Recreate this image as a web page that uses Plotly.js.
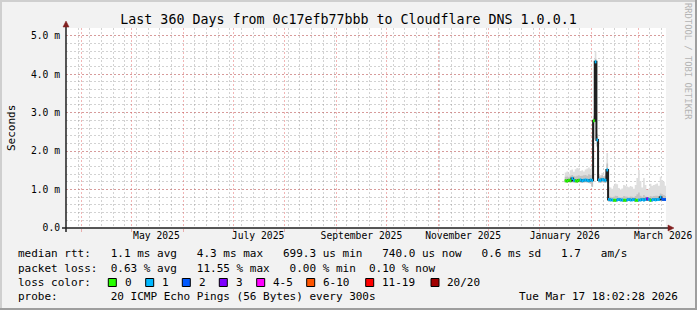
<!DOCTYPE html>
<html><head><meta charset="utf-8">
<script src="https://cdn.plot.ly/plotly-3.0.1.min.js"></script>
<style>html,body{margin:0;padding:0;background:#f2f2f2;} #chart{width:697px;height:310px;}</style>
</head><body><div id="chart"></div>
<script>
// ---------- data (daily consolidated smokeping values, ms) ----------
const rangeStart = '2025-03-22 18:02:28';
const rangeEnd   = '2026-03-17 18:02:28';
const firstDay = [2026, 0, 16];   // first day with data (Jan 16 2026)
const medianMs = [1.23,1.22,1.24,1.23,1.29,1.24,1.23,1.22,1.24,1.25,1.23,1.24,1.25,1.24,1.23,1.25,
  1.24,2.79,4.32,2.29,1.25,1.24,1.26,1.25,1.24,1.51,
  0.74,0.73,0.73,0.72,0.72,0.73,0.74,0.73,0.73,0.72,0.72,0.73,0.74,0.73,0.73,0.74,0.72,0.72,0.73,0.73,
  0.74,0.73,0.74,0.76,0.74,0.72,0.73,0.74,0.73,0.74,0.74,0.80,0.75,0.74,0.74];
const lossPings = [0,0,0,0,1,1,0,0,0,1,1,1,1,1,1,1,
  1,0,1,1,1,1,1,1,1,1,
  1,1,1,0,0,1,1,1,1,0,0,1,1,1,1,1,0,0,1,1,1,1,1,3,1,0,1,1,1,1,1,1,2,2,2];
const smokeMin = [1.18,1.17,1.19,1.18,1.19,1.18,1.17,1.17,1.19,1.18,1.17,1.18,1.19,1.18,1.17,1.16,
  1.07,2.30,4.12,2.12,1.18,1.17,1.19,1.18,1.17,1.36,
  0.69,0.69,0.70,0.69,0.69,0.70,0.70,0.69,0.69,0.69,0.69,0.70,0.70,0.69,0.70,0.70,0.69,0.69,0.70,0.69,
  0.70,0.69,0.70,0.71,0.70,0.69,0.69,0.70,0.70,0.70,0.70,0.72,0.71,0.70,0.70];
const smokeP75 = [1.33,1.34,1.32,1.36,1.38,1.35,1.34,1.36,1.37,1.35,1.36,1.37,1.38,1.36,1.40,1.38,
  1.40,2.86,4.40,2.38,1.35,1.33,1.37,1.34,1.36,1.68,
  0.82,0.81,0.80,0.81,0.84,0.83,0.80,0.79,0.80,0.83,0.82,0.81,0.80,0.82,0.81,0.80,0.83,0.88,0.92,0.84,
  0.81,0.86,0.82,0.80,0.80,0.83,0.82,0.83,0.84,0.84,0.82,0.90,0.88,0.86,0.83];
const smokeMax = [1.44,1.47,1.41,1.50,1.52,1.46,1.53,1.56,1.55,1.48,1.50,1.47,1.52,1.55,1.57,1.54,
  1.60,2.92,4.58,2.45,1.40,1.38,1.43,1.36,1.42,1.95,
  1.07,1.05,1.02,1.10,1.16,1.14,1.04,1.00,1.03,1.12,1.10,1.08,1.06,1.09,1.07,1.02,1.12,1.30,1.51,1.22,
  1.05,1.30,1.12,0.99,1.02,1.15,1.10,1.12,1.14,1.16,1.10,1.33,1.25,1.20,1.10];

const yTickVals = [0,1,2,3,4,5];
const yTickText = ['0.0','1.0 m','2.0 m','3.0 m','4.0 m','5.0 m'];
const xLabelVals = ['2025-05-16','2025-07-16','2025-09-16','2025-11-16','2026-01-16','2026-03-16'];
const xLabelText = ['May 2025','July 2025','September 2025','November 2025','January 2026','March 2026'];

const lossClasses = [
  {label:'0',     lo:0,  hi:0,  color:'#26ff00'},
  {label:'1',     lo:1,  hi:1,  color:'#00b8ff'},
  {label:'2',     lo:2,  hi:2,  color:'#0059ff'},
  {label:'3',     lo:3,  hi:3,  color:'#7e00ff'},
  {label:'4-5',   lo:4,  hi:5,  color:'#ff00ff'},
  {label:'6-10',  lo:6,  hi:10, color:'#ff5500'},
  {label:'11-19', lo:11, hi:19, color:'#ff0000'},
  {label:'20/20', lo:20, hi:20, color:'#a10000'}
];

const legendLines = [
  'median rtt:   1.1 ms avg   4.3 ms max   699.3 us min   740.0 us now   0.6 ms sd   1.7   am/s',
  'packet loss:  0.63 % avg   11.55 % max   0.00 % min  0.10 % now',
  'loss color:',
  'probe:        20 ICMP Echo Pings (56 Bytes) every 300s'
];
const stampText = 'Tue Mar 17 18:02:28 2026';
const titleText = 'Last 360 Days from 0c17efb77bbb to Cloudflare DNS 1.0.0.1';

// ---------- build ----------
const FONT = 'DejaVu Sans Mono';
const n = medianMs.length;
function dayStr(i){ const d = new Date(Date.UTC(firstDay[0], firstDay[1], firstDay[2] + i)); return d.toISOString().slice(0,10); }
const xs = []; for (let i = 0; i <= n; i++) xs.push(dayStr(i));
const ext = a => a.concat([a[a.length-1]]);

const traces = [];
function band(lo, hi, color){
  traces.push({x: xs, y: ext(lo), type:'scatter', mode:'lines', line:{width:0, shape:'hv'}, hoverinfo:'skip', showlegend:false});
  traces.push({x: xs, y: ext(hi), type:'scatter', mode:'lines', line:{width:0, shape:'hv'}, fill:'tonexty', fillcolor:color, hoverinfo:'skip', showlegend:false});
}
band(smokeMin, smokeMax, '#dedede');
band(smokeMin, smokeP75, '#c2c2c2');
traces.push({x: xs, y: ext(medianMs), type:'scatter', mode:'lines', line:{width:2, shape:'hv', color:'#202020'}, showlegend:false, hoverinfo:'skip'});
lossClasses.forEach(c => {
  const sx = [], sy = [];
  for (let i = 0; i < n; i++) {
    if (lossPings[i] >= c.lo && lossPings[i] <= c.hi) { sx.push(xs[i], xs[i+1], null); sy.push(medianMs[i], medianMs[i], null); }
  }
  if (sx.length) traces.push({x: sx, y: sy, type:'scatter', mode:'lines', line:{width:3, color:c.color}, connectgaps:false, showlegend:false, hoverinfo:'skip'});
});

// pixel helpers for decorations (plot area: left 66, top 28, 600x200)
const L = 66, T = 28, W = 600, H = 200;
const PX = x => (x - L) / W, PY = y => (T + H - y) / H;
const nb = s => s.replace(/ /g, '\u00a0');

const annotations = [];
const legendY = [254, 268.3, 282.3, 296];
legendLines.forEach((t, k) => annotations.push({xref:'paper', yref:'paper', x:PX(16), y:PY(legendY[k]), xanchor:'left', yanchor:'middle', text:nb(t), showarrow:false, font:{family:FONT, size:11, color:'#000'}}));
annotations.push({xref:'paper', yref:'paper', x:PX(680), y:PY(296), xanchor:'right', yanchor:'middle', text:nb(stampText), showarrow:false, font:{family:FONT, size:11, color:'#000'}});
annotations.push({xref:'paper', yref:'paper', x:PX(11), y:0.5, textangle:-90, xanchor:'center', yanchor:'middle', text:'Seconds', showarrow:false, font:{family:FONT, size:11, color:'#000'}});
annotations.push({xref:'paper', yref:'paper', x:PX(688), y:PY(61), textangle:90, xanchor:'center', yanchor:'middle', text:nb('RRDTOOL / TOBI OETIKER'), showarrow:false, font:{family:FONT, size:8.8, color:'#b4b4b4'}});

const shapes = [];
const boxLeft = [108.3, 145.7, 182.3, 219.3, 256.7, 306.7, 365.7, 431];
lossClasses.forEach((c, k) => {
  const bx = boxLeft[k];
  shapes.push({type:'rect', xref:'paper', yref:'paper', x0:PX(bx), x1:PX(bx+8), y0:PY(286.5), y1:PY(278.5), fillcolor:c.color, line:{color:'#000', width:1}});
  annotations.push({xref:'paper', yref:'paper', x:PX(bx+14.5), y:PY(282.3), xanchor:'left', yanchor:'middle', text:c.label, showarrow:false, font:{family:FONT, size:11, color:'#000'}});
});
// axes with arrows
shapes.push({type:'line', xref:'paper', yref:'paper', x0:PX(62), x1:PX(669), y0:0, y1:0, line:{color:'#1f1f1f', width:1.5}});
shapes.push({type:'line', xref:'paper', yref:'paper', x0:0, x1:0, y0:PY(232), y1:PY(25), line:{color:'#1f1f1f', width:1.5}});
shapes.push({type:'path', xref:'paper', yref:'paper', path:`M ${PX(668)} ${PY(225)} L ${PX(674)} ${PY(228)} L ${PX(668)} ${PY(231)} Z`, fillcolor:'#801f1f', line:{color:'#801f1f', width:0.5}});
shapes.push({type:'path', xref:'paper', yref:'paper', path:`M ${PX(63)} ${PY(27)} L ${PX(66)} ${PY(21)} L ${PX(69)} ${PY(27)} Z`, fillcolor:'#801f1f', line:{color:'#801f1f', width:0.5}});
// frame shading
shapes.push({type:'rect', xref:'paper', yref:'paper', x0:PX(0), x1:PX(697), y0:PY(0), y1:PY(2), fillcolor:'#cfcfcf', line:{width:0}});
shapes.push({type:'rect', xref:'paper', yref:'paper', x0:PX(0), x1:PX(2), y0:PY(0), y1:PY(310), fillcolor:'#cfcfcf', line:{width:0}});
shapes.push({type:'rect', xref:'paper', yref:'paper', x0:PX(695), x1:PX(697), y0:PY(0), y1:PY(310), fillcolor:'#9e9e9e', line:{width:0}});
shapes.push({type:'rect', xref:'paper', yref:'paper', x0:PX(0), x1:PX(697), y0:PY(308), y1:PY(310), fillcolor:'#9e9e9e', line:{width:0}});

const gridMinor = 'rgba(143,143,143,0.4)';
const gridMajor = 'rgba(222,79,79,0.42)';
const layout = {
  width: 697, height: 310,
  margin: {l: L, r: 697 - L - W, t: T, b: 310 - T - H, pad: 0},
  paper_bgcolor: '#f2f2f2', plot_bgcolor: '#ffffff',
  showlegend: false,
  title: {text: titleText, font:{family:FONT, size:13.3, color:'#000'}, x:0.5, xref:'container', xanchor:'center', y:1 - 19/310, yref:'container', yanchor:'middle'},
  xaxis: {type:'date', range:[rangeStart, rangeEnd], tickmode:'linear', tick0:'2025-01-01', dtick:'M1',
    showgrid:true, gridcolor:gridMajor, griddash:'2px,2px', gridwidth:1, showticklabels:false,
    ticks:'outside', ticklen:3, tickcolor:gridMajor, showline:false, zeroline:false, fixedrange:true,
    minor:{tickmode:'linear', tick0:'2025-04-06', dtick:604800000, showgrid:true, gridcolor:gridMinor, griddash:'2px,2px', gridwidth:1, ticks:''}},
  xaxis2: {type:'date', overlaying:'x', anchor:'y', side:'bottom', range:[rangeStart, rangeEnd], tickmode:'array',
    tickvals:xLabelVals, ticktext:xLabelText, showgrid:false, ticks:'', showline:false, zeroline:false,
    tickfont:{family:FONT, size:9.7, color:'#000'}, fixedrange:true},
  yaxis: {range:[0, 5.2], tickmode:'array', tickvals:yTickVals, ticktext:yTickText, showgrid:true, gridcolor:gridMajor,
    griddash:'2px,2px', gridwidth:1, zeroline:false, showline:false, ticks:'outside', ticklen:3, tickcolor:'rgba(0,0,0,0)',
    tickfont:{family:FONT, size:9.7, color:'#000'}, fixedrange:true,
    minor:{tickmode:'linear', tick0:0, dtick:0.2, showgrid:true, gridcolor:gridMinor, griddash:'2px,2px', gridwidth:1, ticks:''}},
  annotations, shapes
};
traces.push({x:[rangeStart], y:[null], xaxis:'x2', yaxis:'y', type:'scatter', mode:'markers', showlegend:false, hoverinfo:'skip'});
Plotly.newPlot('chart', traces, layout, {staticPlot:true, displayModeBar:false});
</script>
</body></html>
